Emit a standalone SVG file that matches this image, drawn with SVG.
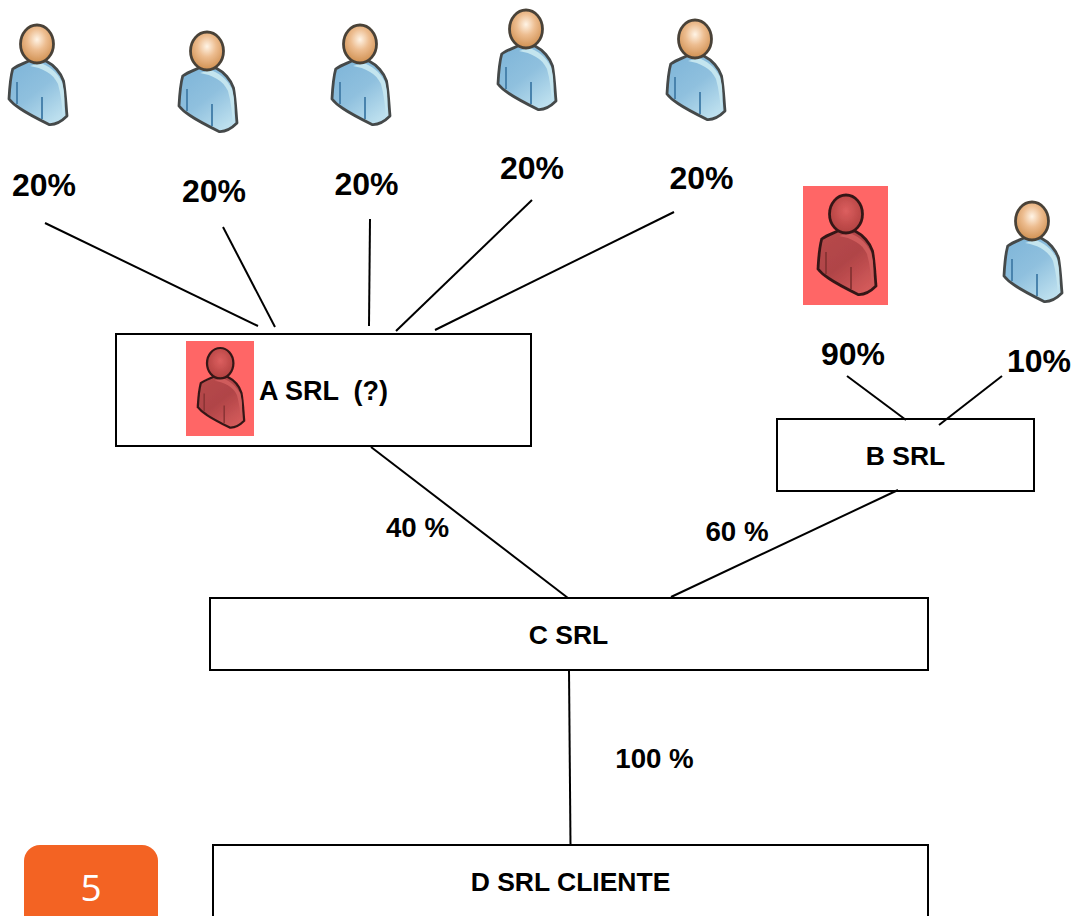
<svg xmlns="http://www.w3.org/2000/svg" width="1074" height="916" viewBox="0 0 1074 916">
<style>
.box{fill:#fff;stroke:#000;stroke-width:2}
.ln{fill:none;stroke:#000;stroke-width:2}
.t{font-family:"Liberation Sans",Arial,sans-serif;font-weight:700;fill:#000}
.p{font-size:32px}
.l{font-size:27.700px}
.n{font-size:26.500px}
.m{text-anchor:middle}
</style>
<defs>
<radialGradient id="hb" cx="0.5" cy="0.38" r="0.62"><stop offset="0" stop-color="#fff4e6"/><stop offset="0.45" stop-color="#edbd90"/><stop offset="1" stop-color="#cf8f50"/></radialGradient>
<linearGradient id="bb" x1="0" y1="0" x2="0.7" y2="1"><stop offset="0" stop-color="#7db4d8"/><stop offset="0.55" stop-color="#8fc0de"/><stop offset="1" stop-color="#bcdfee"/></linearGradient>
<radialGradient id="hr" cx="0.5" cy="0.42" r="0.6"><stop offset="0" stop-color="#dc5f5f"/><stop offset="1" stop-color="#b0403f"/></radialGradient>
<linearGradient id="br" x1="0" y1="0" x2="0.7" y2="1"><stop offset="0" stop-color="#b84a4c"/><stop offset="0.55" stop-color="#b04447"/><stop offset="1" stop-color="#d25a5a"/></linearGradient>
<filter id="soft" x="-10%" y="-10%" width="120%" height="120%"><feGaussianBlur stdDeviation="0.7"/></filter>
<g id="blue" filter="url(#soft)">
<path d="M12.700 69C18 65 25 63 31 60L46 61C54 65 61 73 63.500 81C65.500 92 66 105 67 116C62 121 56 125 49 124.500C38 119 28 114 20 108.500C16 106 12 103 9 99C9.500 90 10 79 12.700 69Z" fill="url(#bb)" stroke="#45494a" stroke-width="2.800" stroke-linejoin="round"/>
<path d="M30 66C42 68 53 73 58 84C61 95 62 105 63 117C65 105 65 92 62 82C57 72 48 65 40 63Z" fill="#c4e5ef"/>
<path d="M17 82V104M42 97V119" fill="none" stroke="#4a83ad" stroke-width="2"/>
<ellipse cx="37" cy="44" rx="16.500" ry="19" fill="url(#hb)" stroke="#4a4238" stroke-width="2.800"/>
</g>
<g id="red" filter="url(#soft)">
<path d="M12.700 69C18 65 25 63 31 60L46 61C54 65 61 73 63.500 81C65.500 92 66 105 67 116C62 121 56 125 49 124.500C38 119 28 114 20 108.500C16 106 12 103 9 99C9.500 90 10 79 12.700 69Z" fill="url(#br)" stroke="#351818" stroke-width="2.800" stroke-linejoin="round"/>
<path d="M30 66C42 68 53 73 58 84C61 95 62 105 63 117C65 105 65 92 62 82C57 72 48 65 40 63Z" fill="#cf5c5c"/>
<path d="M17 82V104M42 97V119" fill="none" stroke="#8c3436" stroke-width="2"/>
<ellipse cx="37" cy="44" rx="16.500" ry="19" fill="url(#hr)" stroke="#351818" stroke-width="2.800"/>
</g>
</defs>
<g id="person-1"><use href="#blue"/><text class="t p m" x="44" y="196">20%</text></g>
<g id="person-2"><use href="#blue" transform="translate(170 7)"/><text class="t p m" x="214" y="202">20%</text></g>
<g id="person-3"><use href="#blue" transform="translate(323 0)"/><text class="t p m" x="366.500" y="195">20%</text></g>
<g id="person-4"><use href="#blue" transform="translate(489 -15)"/><text class="t p m" x="532" y="179">20%</text></g>
<g id="person-5"><use href="#blue" transform="translate(658 -5)"/><text class="t p m" x="701.500" y="189">20%</text></g>
<g id="person-6"><rect x="803" y="186" width="85" height="119" fill="#ff6666"/><use href="#red" transform="translate(809 170)"/><text class="t p m" x="853" y="365">90%</text></g>
<g id="person-7"><use href="#blue" transform="translate(995 177)"/><text class="t p m" x="1039" y="372">10%</text></g>
<g id="node-a"><rect class="box" x="116" y="334" width="415" height="112"/><rect x="186" y="341" width="68" height="95" fill="#ff6666"/><use href="#red" transform="translate(190.600 328) scale(0.8)"/><text class="t" style="font-size:27px" xml:space="preserve" x="259" y="400">A SRL  (?)</text></g>
<g id="node-b"><rect class="box" x="777" y="419" width="257" height="72"/><text class="t n m" x="905.500" y="465">B SRL</text></g>
<g id="node-c"><rect class="box" x="210" y="598" width="718" height="72"/><text class="t n m" x="568.500" y="644">C SRL</text></g>
<g id="node-d"><rect class="box" x="213" y="845" width="715" height="80"/><text class="t n m" x="570.500" y="891">D SRL CLIENTE</text></g>
<g id="labels"><text class="t l m" x="417.500" y="537">40 %</text><text class="t l m" x="737" y="541">60 %</text><text class="t l m" x="654.500" y="768">100 %</text></g>
<g id="connectors">
<path class="ln" d="M45 223L258 326"/>
<path class="ln" d="M223 227L275 327"/>
<path class="ln" d="M370 219L369 326"/>
<path class="ln" d="M532 200L396 331"/>
<path class="ln" d="M674 212L435 330"/>
<path class="ln" d="M847 376L906 420"/>
<path class="ln" d="M1002 376L939 425"/>
<path class="ln" d="M371 447L568 598"/>
<path class="ln" d="M898 490L671 597"/>
<path class="ln" d="M569 670L570.500 845"/>
</g>
<g id="page-badge"><path d="M24 925V861a16 16 0 0 1 16-16H142a16 16 0 0 1 16 16V925Z" fill="#f36323"/><text x="91" y="901" font-family="'Open Sans',sans-serif" font-size="37" fill="#fff" text-anchor="middle">5</text></g>
</svg>
